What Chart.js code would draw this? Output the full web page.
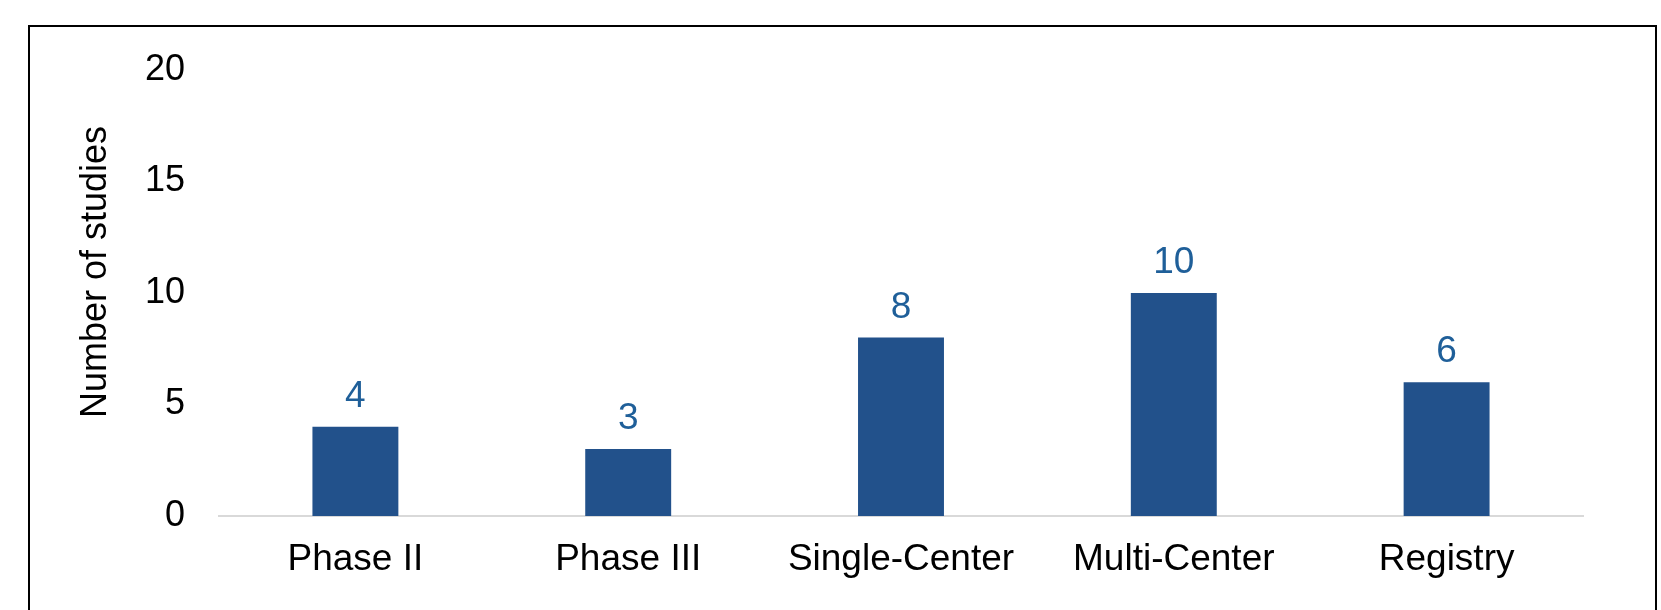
<!DOCTYPE html>
<html>
<head>
<meta charset="utf-8">
<script src="https://cdn.jsdelivr.net/npm/chart.js@4/dist/chart.umd.min.js"></script>
<style>
    body { margin: 0; background: #ffffff; }
    #wrap { position: relative; width: 1661px; height: 610px; overflow: hidden; }
    #frame {
        position: absolute; left: 28px; top: 25px;
        width: 1629px; height: 700px;
        border: 2px solid #000000; box-sizing: border-box;
    }
    #studyChart { position: absolute; left: 0; top: 0; }
</style>
</head>
<body>
<div id="wrap">
    <div id="frame"></div>
    <canvas id="studyChart" width="1661" height="610"></canvas>
</div>
<script>
const categories = ["Phase II", "Phase III", "Single-Center", "Multi-Center", "Registry"];
const studyCounts = [4, 3, 8, 10, 6];
const yTicks = [0, 5, 10, 15, 20];

const FONT = '"Liberation Sans", Arial, sans-serif';

// valores encima de cada barra
const barValueLabels = {
    id: "barValueLabels",
    afterDatasetsDraw(chart) {
        const ctx = chart.ctx;
        const meta = chart.getDatasetMeta(0);
        ctx.save();
        ctx.font = "37px " + FONT;
        ctx.fillStyle = "#1f5f99";
        ctx.textAlign = "center";
        ctx.textBaseline = "alphabetic";
        meta.data.forEach(function (bar, i) {
            ctx.fillText(String(studyCounts[i]), bar.x, bar.y - 20);
        });
        ctx.restore();
    },
};

// titulo del eje Y (un poco arriba del centro, como en el original)
const yAxisTitle = {
    id: "yAxisTitle",
    afterDraw(chart) {
        const ctx = chart.ctx;
        ctx.save();
        ctx.translate(96, 272);
        ctx.rotate(-Math.PI / 2);
        ctx.font = "36px " + FONT;
        ctx.fillStyle = "#000000";
        ctx.textAlign = "center";
        ctx.textBaseline = "middle";
        ctx.fillText("Number of studies", 0, 0);
        ctx.restore();
    },
};

new Chart(document.getElementById("studyChart").getContext("2d"), {
    type: "bar",
    data: {
        labels: categories,
        datasets: [
            {
                label: "Number of studies",
                data: studyCounts,
                backgroundColor: "#22518b",
                borderWidth: 0,
                barPercentage: 0.315,
                categoryPercentage: 1,
            },
        ],
    },
    options: {
        responsive: false,
        animation: false,
        layout: {
            padding: { left: 0, right: 78, top: 70, bottom: 0 },
        },
        plugins: {
            legend: { display: false },
            tooltip: { enabled: false },
        },
        scales: {
            y: {
                min: yTicks[0],
                max: yTicks[yTicks.length - 1],
                afterBuildTicks: function (scale) {
                    scale.ticks = yTicks.map(function (v) { return { value: v }; });
                },
                afterFit: function (scale) {
                    scale.width = 219;
                },
                grid: { display: false, drawTicks: false },
                border: { display: false },
                ticks: {
                    padding: 34,
                    color: "#000000",
                    font: { family: FONT, size: 36 },
                },
            },
            x: {
                afterFit: function (scale) {
                    scale.height = 94;
                },
                grid: { display: false, drawTicks: false },
                border: { display: true, color: "#d9d9d9", width: 2 },
                ticks: {
                    padding: 22,
                    color: "#000000",
                    maxRotation: 0,
                    font: { family: FONT, size: 37 },
                },
            },
        },
    },
    plugins: [barValueLabels, yAxisTitle],
});
</script>
</body>
</html>
